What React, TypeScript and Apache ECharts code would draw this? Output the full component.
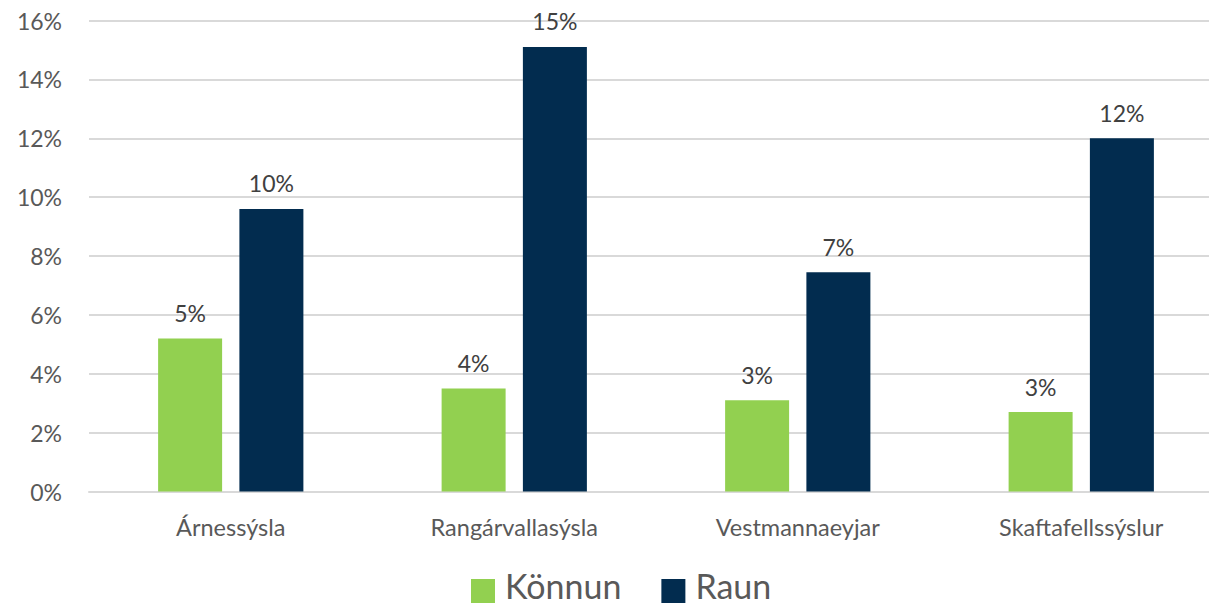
import React, { useEffect, useRef } from "react";
import * as echarts from "echarts";

const categories = ["Árnessýsla", "Rangárvallasýsla", "Vestmannaeyjar", "Skaftafellssýslur"];
const konnun = [5.2, 3.5, 3.1, 2.7];
const raun = [9.6, 15.1, 7.45, 12.0];
const seriesNames = ["Könnun", "Raun"];
const FONT = "Lato, 'Open Sans', sans-serif";

export default function App() {
  const ref = useRef<HTMLDivElement>(null);
  useEffect(() => {
    if (!ref.current) return;
    const chart = echarts.init(ref.current, null, { renderer: "svg" });
    const label = {
      show: true,
      position: "top",
      distance: 14,
      color: "#404040",
      fontSize: 23,
      fontFamily: FONT,
      formatter: (p: any) => Math.round(p.value) + "%",
    };
    chart.setOption({
      animation: false,
      backgroundColor: "#ffffff",
      textStyle: { fontFamily: FONT },
      grid: { left: 89, top: 20.5, right: 7, height: 471 },
      legend: {
        top: 567,
        left: 471,
        padding: [0, 0, 0, 0],
        itemWidth: 24,
        itemHeight: 36,
        itemGap: 40,
        icon: "path://M0,0h0.05v0.05h-0.05z M0,12h24v24h-24z",
        textStyle: { fontSize: 34, lineHeight: 30, color: "#595959", fontFamily: FONT, padding: [0, 0, 0, 5] },
        data: seriesNames,
      },
      xAxis: {
        type: "category",
        data: categories,
        axisLine: { show: true, lineStyle: { color: "#D9D9D9", width: 2 } },
        axisTick: { show: false },
        axisLabel: { color: "#595959", fontSize: 23.5, fontFamily: FONT, margin: 23 },
      },
      yAxis: {
        type: "value",
        min: 0,
        max: 16,
        interval: 2,
        axisLine: { show: false },
        axisTick: { show: false },
        splitLine: { lineStyle: { color: "#D9D9D9", width: 2 } },
        axisLabel: { color: "#595959", fontSize: 23, fontFamily: FONT, margin: 27, formatter: "{value}%" },
      },
      series: [
        {
          name: seriesNames[0],
          type: "bar",
          data: konnun,
          barWidth: 64,
          barGap: "27%",
          itemStyle: { color: "#92D050" },
          label,
        },
        {
          name: seriesNames[1],
          type: "bar",
          data: raun,
          barWidth: 64,
          barGap: "27%",
          itemStyle: { color: "#022C4F" },
          label,
        },
      ],
    });
    return () => chart.dispose();
  }, []);
  return (
    <div style={{ position: "fixed", left: 0, top: 0, width: 1209, height: 608, overflow: "hidden", background: "#fff" }}>
      <div ref={ref} style={{ width: 1230, height: 608 }} />
    </div>
  );
}
